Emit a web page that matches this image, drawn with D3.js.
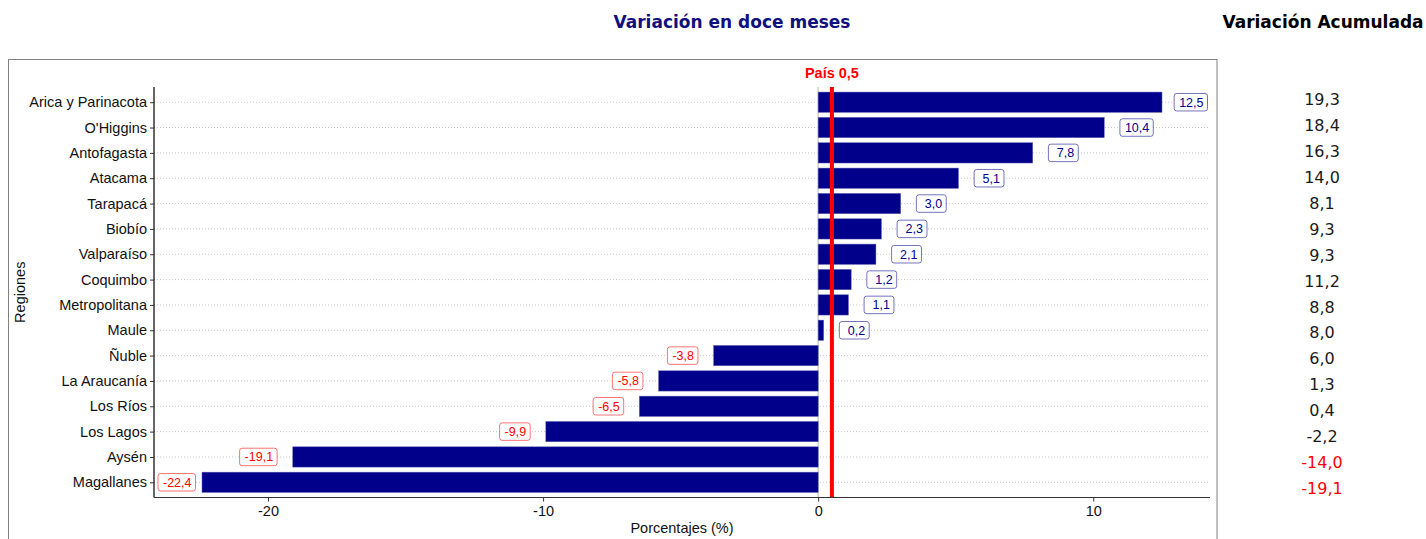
<!DOCTYPE html>
<html>
<head>
<meta charset="utf-8">
<script src="https://cdn.jsdelivr.net/npm/d3@7"></script>
<style>
  body { margin: 0; background: #fff; }
  svg { display: block; }
</style>
</head>
<body>
<script>
// Data
const regions = ["Arica y Parinacota", "O'Higgins", "Antofagasta", "Atacama", "Tarapacá", "Biobío", "Valparaíso", "Coquimbo", "Metropolitana", "Maule", "Ñuble", "La Araucanía", "Los Ríos", "Los Lagos", "Aysén", "Magallanes"]
const variacion12 = [12.5, 10.4, 7.8, 5.1, 3.0, 2.3, 2.1, 1.2, 1.1, 0.2, -3.8, -5.8, -6.5, -9.9, -19.1, -22.4]
const acumulada = [19.3, 18.4, 16.3, 14.0, 8.1, 9.3, 9.3, 11.2, 8.8, 8.0, 6.0, 1.3, 0.4, -2.2, -14.0, -19.1]
const pais = 0.5
const xTicks = [-20, -10, 0, 10]

// Config
const width = 1426, height = 539
const panel = { left: 154, right: 1210, top: 87, bottom: 497.5 }
const colors = { bar: "#00008b", pos: "#00008b", neg: "#ff0000", grid: "#c8c8c8", title: "#10107e" }
const sans = "'Liberation Sans', Arial, sans-serif"
const dejavu = "'DejaVu Sans', sans-serif"

// Decimal comma, plain hyphen
const loc = d3.formatLocale({ decimal: ",", thousands: ".", grouping: [3], currency: ["", ""], minus: "-" })
const f1 = loc.format(".1f")
const f0 = loc.format("d")

const svg = d3.select("body").append("svg")
  .attr("width", width)
  .attr("height", height)
  .attr("xmlns", "http://www.w3.org/2000/svg")

// Outer frame
svg.append("rect")
  .attr("x", 8.5).attr("y", 59.5)
  .attr("width", 1217 - 8.5).attr("height", 600)
  .attr("fill", "none").attr("stroke", "#808080").attr("stroke-width", 1)

// Scales (ggplot-like 5% expansion)
const lo = Math.min(0, d3.min(variacion12)), hi = Math.max(0, d3.max(variacion12))
const pad = (hi - lo) * 0.05
const x = d3.scaleLinear().domain([lo - pad, hi + pad]).range([panel.left, panel.right])
const y = d3.scalePoint().domain(regions).range([panel.top, panel.bottom]).padding(0.6)
const bh = y.step() * 0.8

// Grid lines
svg.append("g")
  .selectAll("line")
  .data(regions)
  .join("line")
  .attr("x1", panel.left).attr("x2", panel.right)
  .attr("y1", d => y(d)).attr("y2", d => y(d))
  .attr("stroke", colors.grid).attr("stroke-width", 1).attr("stroke-dasharray", "1,2")

// Zero line
svg.append("line")
  .attr("x1", x(0)).attr("x2", x(0))
  .attr("y1", panel.top).attr("y2", panel.bottom)
  .attr("stroke", "#d0d0d0").attr("stroke-width", 1.5)

// Bars
svg.append("g")
  .selectAll("rect")
  .data(variacion12)
  .join("rect")
  .attr("x", d => x(Math.min(0, d)))
  .attr("width", d => Math.abs(x(d) - x(0)))
  .attr("y", (d, i) => y(regions[i]) - bh / 2)
  .attr("height", bh)
  .attr("fill", colors.bar)
  .attr("stroke", "#5c5cb0").attr("stroke-width", 0.5)

// País line
svg.append("line")
  .attr("x1", x(pais)).attr("x2", x(pais))
  .attr("y1", panel.top).attr("y2", panel.bottom)
  .attr("stroke", "#ff0000").attr("stroke-width", 4)
svg.append("text")
  .attr("x", x(pais)).attr("y", 78)
  .attr("text-anchor", "middle")
  .attr("font-family", sans).attr("font-weight", "bold").attr("font-size", "14.5px")
  .attr("fill", "#ff0000")
  .text(`País ${f1(pais)}`)

// Value labels (boxed, pushed outside the bar, kept inside the panel)
const gap = 0.57
const labels = svg.append("g")
  .attr("font-family", sans).attr("font-size", "12.5px")
variacion12.forEach((v, i) => {
  const col = v < 0 ? colors.neg : colors.pos
  const txt = (v >= 0 && v < 10 ? "\u00a0" : "") + f1(v)
  const g = labels.append("g")
  const t = g.append("text")
    .attr("fill", col)
    .attr("dominant-baseline", "central")
    .text(txt)
  const tw = t.node().getComputedTextLength()
  const bw = tw + 9, bhh = 17.5
  let left = v < 0 ? x(v - gap) - bw : x(v + gap)
  left = Math.max(panel.left + 4, Math.min(panel.right - 2.5 - bw, left))
  const cy = y(regions[i])
  g.insert("rect", "text")
    .attr("x", left).attr("y", cy - bhh / 2)
    .attr("width", bw).attr("height", bhh)
    .attr("rx", 2.5)
    .attr("fill", "#fff")
    .attr("stroke", col).attr("stroke-opacity", 0.55).attr("stroke-width", 1)
  t.attr("x", left + 5).attr("y", cy + 0.5)
})

// Y axis
svg.append("g")
  .attr("transform", `translate(${panel.left},0)`)
  .call(d3.axisLeft(y).tickSize(4).tickPadding(3))
  .call(g => g.select(".domain").attr("d", `M0,${panel.top}V${panel.bottom}`).attr("stroke", "#000").attr("stroke-width", 1.2))
  .call(g => g.selectAll(".tick line").attr("stroke", "#333"))
  .selectAll("text")
  .attr("font-family", sans).attr("font-size", "14.5px").attr("fill", "#111")

// X axis
svg.append("g")
  .attr("transform", `translate(0,${panel.bottom})`)
  .call(d3.axisBottom(x).tickValues(xTicks).tickFormat(f0).tickSize(4).tickPadding(4))
  .call(g => g.select(".domain").attr("d", `M${panel.left},0H${panel.right}`).attr("stroke", "#333").attr("stroke-width", 1.2))
  .call(g => g.selectAll(".tick line").attr("stroke", "#333"))
  .selectAll("text")
  .attr("font-family", sans).attr("font-size", "14.5px").attr("fill", "#111")

// Axis titles
svg.append("text")
  .attr("x", (panel.left + panel.right) / 2).attr("y", 533)
  .attr("text-anchor", "middle")
  .attr("font-family", sans).attr("font-size", "14.5px").attr("fill", "#111")
  .text("Porcentajes (%)")
svg.append("text")
  .attr("transform", `translate(25,${(panel.top + panel.bottom) / 2}) rotate(-90)`)
  .attr("text-anchor", "middle")
  .attr("font-family", sans).attr("font-size", "14.5px").attr("fill", "#111")
  .text("Regiones")

// Titles
svg.append("text")
  .attr("x", 732).attr("y", 28)
  .attr("text-anchor", "middle")
  .attr("font-family", dejavu).attr("font-weight", "bold").attr("font-size", "17px")
  .attr("fill", colors.title)
  .text("Variación en doce meses")
svg.append("text")
  .attr("x", 1323).attr("y", 28)
  .attr("text-anchor", "middle")
  .attr("font-family", dejavu).attr("font-weight", "bold").attr("font-size", "17px")
  .attr("fill", "#000")
  .text("Variación Acumulada")

// Right column: accumulated variation
const yr = d3.scalePoint().domain(regions).range([99.7, 488])
svg.append("g")
  .attr("font-family", dejavu).attr("font-size", "16px").attr("text-anchor", "middle")
  .selectAll("text")
  .data(acumulada)
  .join("text")
  .attr("x", 1322)
  .attr("y", (d, i) => yr(regions[i]))
  .attr("dy", "0.36em")
  .attr("fill", d => d < -10 ? colors.neg : "#1a1a1a")
  .text(d => f1(d))
</script>
</body>
</html>
